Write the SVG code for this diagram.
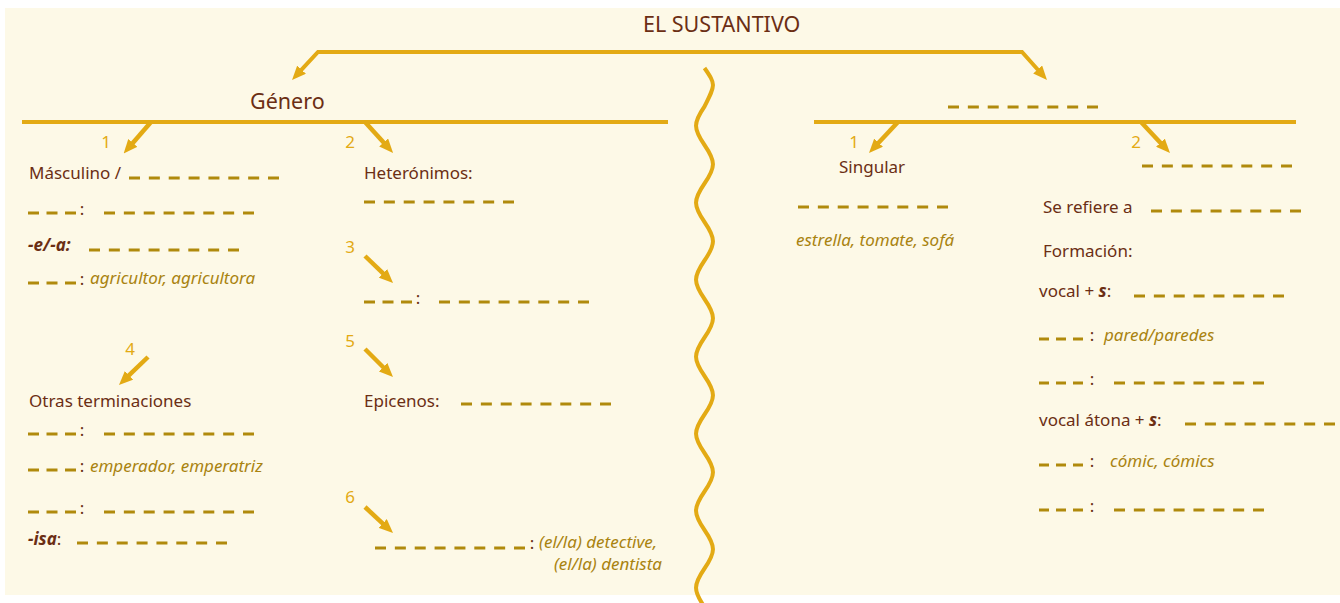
<svg xmlns="http://www.w3.org/2000/svg" width="1340" height="603" viewBox="0 0 1340 603">
<style>
.t{font-family:"Noto Sans","Open Sans",sans-serif;font-size:17px;fill:#6b2e14}
.ttl{font-size:21.5px}
.ex{font-style:italic;fill:#a98310}
.n{fill:#e3aa14}
.bi{font-weight:bold;font-style:italic}
.d8{stroke:#b08a0c;stroke-width:3;stroke-dasharray:11 8.86;fill:none}
.d3{stroke:#b08a0c;stroke-width:3;stroke-dasharray:11 7.5;fill:none}
.d3r{stroke:#b08a0c;stroke-width:3;stroke-dasharray:10 7;fill:none}
.ln{stroke:#e3aa14;stroke-width:4;fill:none}
.ar{stroke:#e3aa14;stroke-width:4.5;fill:none;marker-end:url(#ah)}
.wave{stroke:#e3aa14;stroke-width:4;fill:none}
</style>
<defs>
<marker id="ah" markerUnits="userSpaceOnUse" markerWidth="14" markerHeight="12" viewBox="0 0 14 12" refX="2" refY="6" orient="auto-start-reverse"><path d="M0,0 L14,6 L0,12 z" fill="#e3aa14"/></marker>
</defs>
<rect x="0" y="0" width="1340" height="603" fill="#ffffff"/>
<rect x="5" y="8" width="1335" height="587" fill="#fdf9e7"/>

<g id="connectors">
<path class="ln" d="M300.2 71.2 L318 52 H1022 L1039 71" marker-start="url(#ah)" marker-end="url(#ah)"/>
<line class="ln" x1="22" y1="122" x2="668" y2="122"/>
<line class="ln" x1="814" y1="122" x2="1296" y2="122"/>
<line class="ar" x1="151" y1="122" x2="131.5" y2="144.5"/>
<line class="ar" x1="365" y1="122" x2="385" y2="144"/>
<line class="ar" x1="365" y1="256" x2="384.4" y2="274.7"/>
<line class="ar" x1="148" y1="357" x2="127.6" y2="376.7"/>
<line class="ar" x1="365" y1="349" x2="384.5" y2="368.5"/>
<line class="ar" x1="365" y1="507" x2="384.2" y2="524.8"/>
<line class="ar" x1="898" y1="122" x2="877.2" y2="144.2"/>
<line class="ar" x1="1141" y1="122" x2="1161.8" y2="144.2"/>
<path class="wave" d="M704.5 68 C715.8 84.4 715.8 84.4 704.5 106.5 C693.2 122.9 693.2 128.6 704.5 145 C715.8 161.4 715.8 167.1 704.5 183.5 C693.2 199.9 693.2 205.6 704.5 222 C715.8 238.4 715.8 244.1 704.5 260.5 C693.2 276.9 693.2 282.6 704.5 299 C715.8 315.4 715.8 321.1 704.5 337.5 C693.2 353.9 693.2 359.6 704.5 376 C715.8 392.4 715.8 398.1 704.5 414.5 C693.2 430.9 693.2 436.6 704.5 453 C715.8 469.4 715.8 475.1 704.5 491.5 C693.2 507.9 693.2 513.6 704.5 530 C715.8 546.4 715.8 552.1 704.5 568.5 C693.2 584.9 693.2 590.6 704.5 607"/>
</g>

<g id="title"><text class="t ttl" x="643" y="32">EL SUSTANTIVO</text></g>

<g id="genero"><text class="t ttl" x="250" y="109">Género</text></g>

<g id="g1">
<text class="t n" x="106" y="148" text-anchor="middle">1</text>
<text class="t" x="29" y="179">Másculino /</text>
<line class="d8" x1="129" y1="178" x2="279" y2="178"/>
<line class="d3" x1="28" y1="213" x2="76" y2="213"/>
<text class="t" x="82" y="215" text-anchor="middle">:</text>
<line class="d8" x1="104" y1="213" x2="254" y2="213"/>
<text class="t bi" x="28" y="251">-e/-a:</text>
<line class="d8" x1="89" y1="250" x2="239" y2="250"/>
<line class="d3" x1="28" y1="283" x2="76" y2="283"/>
<text class="t" x="82" y="285" text-anchor="middle">:</text>
<text class="t ex" x="90" y="284">agricultor, agricultora</text>
</g>

<g id="g4">
<text class="t n" x="130" y="355" text-anchor="middle">4</text>
<text class="t" x="29" y="407">Otras terminaciones</text>
<line class="d3" x1="28" y1="434" x2="76" y2="434"/>
<text class="t" x="82" y="436" text-anchor="middle">:</text>
<line class="d8" x1="104" y1="434" x2="254" y2="434"/>
<line class="d3" x1="28" y1="470" x2="76" y2="470"/>
<text class="t" x="82" y="472" text-anchor="middle">:</text>
<text class="t ex" x="90" y="472">emperador, emperatriz</text>
<line class="d3" x1="28" y1="512" x2="76" y2="512"/>
<text class="t" x="82" y="514" text-anchor="middle">:</text>
<line class="d8" x1="104" y1="512" x2="254" y2="512"/>
<text class="t" x="28" y="545"><tspan class="bi">-isa</tspan>:</text>
<line class="d8" x1="77" y1="543" x2="227" y2="543"/>
</g>

<g id="g2">
<text class="t n" x="350" y="148" text-anchor="middle">2</text>
<text class="t" x="364" y="179">Heterónimos:</text>
<line class="d8" x1="364" y1="202" x2="514" y2="202"/>
</g>

<g id="g3">
<text class="t n" x="350" y="253" text-anchor="middle">3</text>
<line class="d3" x1="364" y1="302" x2="412" y2="302"/>
<text class="t" x="418" y="304" text-anchor="middle">:</text>
<line class="d8" x1="439" y1="302" x2="589" y2="302"/>
</g>

<g id="g5">
<text class="t n" x="350" y="347" text-anchor="middle">5</text>
<text class="t" x="364" y="407">Epicenos:</text>
<line class="d8" x1="461" y1="404" x2="611" y2="404"/>
</g>

<g id="g6">
<text class="t n" x="350" y="503" text-anchor="middle">6</text>
<line class="d8" x1="375" y1="548" x2="525" y2="548"/>
<text class="t" x="532" y="549" text-anchor="middle">:</text>
<text class="t ex" x="539" y="548">(el/la) detective,</text>
<text class="t ex" x="662" y="570" text-anchor="end">(el/la) dentista</text>
</g>

<g id="numero">
<line class="d8" x1="948" y1="107" x2="1098" y2="107"/>
</g>

<g id="singular">
<text class="t n" x="854" y="148" text-anchor="middle">1</text>
<text class="t" x="839" y="173">Singular</text>
<line class="d8" x1="798" y1="207" x2="948" y2="207"/>
<text class="t ex" x="796" y="246">estrella, tomate, sofá</text>
</g>

<g id="plural">
<text class="t n" x="1136" y="148" text-anchor="middle">2</text>
<line class="d8" x1="1142" y1="166" x2="1292" y2="166"/>
<text class="t" x="1043" y="213">Se refiere a</text>
<line class="d8" x1="1151" y1="211" x2="1301" y2="211"/>
<text class="t" x="1043" y="257">Formación:</text>
<text class="t" x="1039" y="297">vocal + <tspan class="bi">s</tspan>:</text>
<line class="d8" x1="1134" y1="296" x2="1284" y2="296"/>
<line class="d3r" x1="1039" y1="339" x2="1083" y2="339"/>
<text class="t" x="1092" y="341" text-anchor="middle">:</text>
<text class="t ex" x="1104" y="341">pared/paredes</text>
<line class="d3r" x1="1039" y1="383" x2="1083" y2="383"/>
<text class="t" x="1092" y="385" text-anchor="middle">:</text>
<line class="d8" x1="1114" y1="383" x2="1264" y2="383"/>
<text class="t" x="1039" y="426">vocal átona + <tspan class="bi">s</tspan>:</text>
<line class="d8" x1="1185" y1="424" x2="1335" y2="424"/>
<line class="d3r" x1="1039" y1="465" x2="1083" y2="465"/>
<text class="t" x="1092" y="467" text-anchor="middle">:</text>
<text class="t ex" x="1110" y="467">cómic, cómics</text>
<line class="d3r" x1="1039" y1="510" x2="1083" y2="510"/>
<text class="t" x="1092" y="512" text-anchor="middle">:</text>
<line class="d8" x1="1114" y1="510" x2="1264" y2="510"/>
</g>
</svg>
